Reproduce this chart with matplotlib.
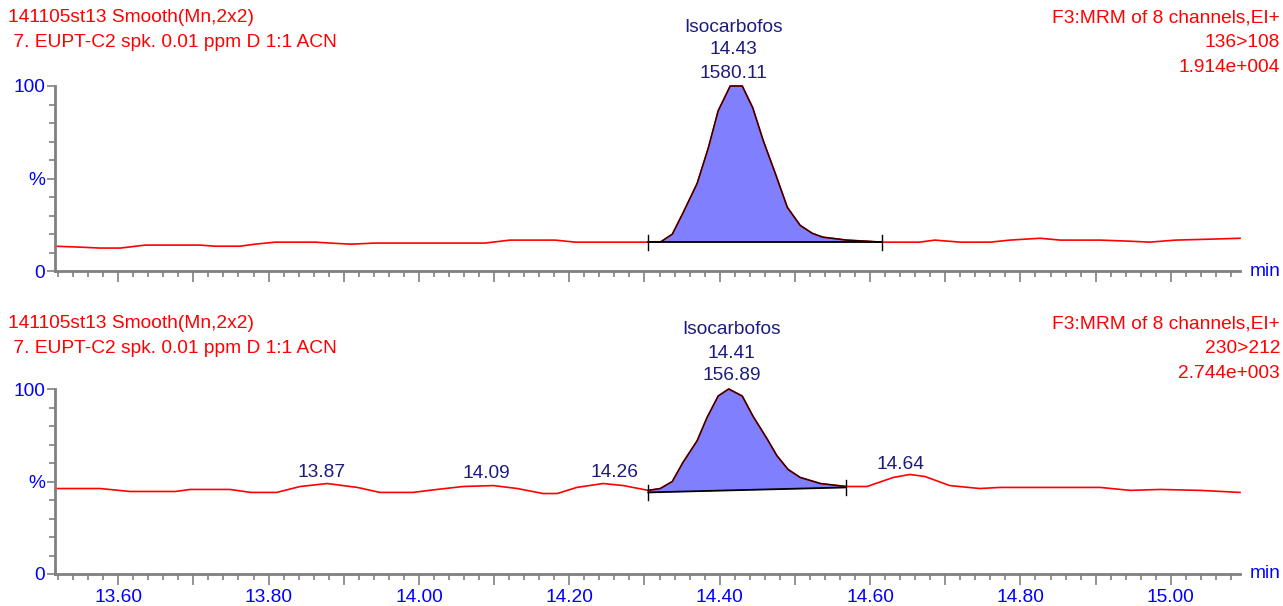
import numpy as np
import matplotlib.pyplot as plt
from matplotlib.ticker import MultipleLocator, FixedLocator, FuncFormatter

plt.rcParams['font.family'] = ['Liberation Sans', 'DejaVu Sans']

# channel 136>108 (time in min, intensity in %)
t_top = [13.516, 13.549, 13.576, 13.603, 13.636, 13.709, 13.729, 13.762, 13.782, 13.809,
         13.862, 13.882, 13.909, 13.942, 14.088, 14.121, 14.181, 14.208, 14.305, 14.321,
         14.337, 14.351, 14.370, 14.385, 14.398, 14.414, 14.430, 14.444, 14.458, 14.474,
         14.490, 14.507, 14.523, 14.537, 14.569, 14.596, 14.616, 14.666, 14.686, 14.720,
         14.760, 14.786, 14.826, 14.853, 14.906, 14.946, 14.972, 15.006, 15.052, 15.092]
i_top = [13.4, 12.9, 12.4, 12.4, 14.0, 14.0, 13.4, 13.4, 14.5, 15.6,
         15.6, 15.1, 14.5, 15.1, 15.1, 16.7, 16.7, 15.6, 15.6, 15.6,
         19.9, 31.2, 47.3, 66.7, 86.6, 100.0, 100.0, 88.2, 70.4, 52.7,
         34.4, 24.7, 20.4, 18.3, 16.7, 16.1, 15.6, 15.6, 16.7, 15.6,
         15.6, 16.7, 17.7, 16.7, 16.7, 16.1, 15.6, 16.7, 17.2, 17.7]

# channel 230>212
t_bot = [13.516, 13.576, 13.616, 13.676, 13.696, 13.749, 13.776, 13.811, 13.842, 13.878,
         13.918, 13.948, 13.992, 14.024, 14.059, 14.099, 14.131, 14.165, 14.184, 14.210,
         14.245, 14.272, 14.305, 14.321, 14.337, 14.351, 14.370, 14.383, 14.398, 14.412,
         14.430, 14.444, 14.463, 14.476, 14.491, 14.507, 14.534, 14.568, 14.596, 14.631,
         14.653, 14.673, 14.706, 14.746, 14.773, 14.906, 14.946, 14.986, 15.039, 15.092]
i_bot = [46.2, 46.2, 44.6, 44.6, 45.7, 45.7, 44.1, 44.1, 47.3, 48.9,
         46.8, 44.1, 44.1, 45.7, 47.3, 47.8, 46.2, 43.5, 43.5, 46.8,
         48.9, 47.8, 45.2, 46.2, 50.0, 60.2, 72.0, 84.4, 96.2, 100.0,
         96.2, 85.5, 73.1, 64.0, 56.5, 52.2, 48.9, 47.3, 47.3, 52.2,
         53.8, 52.7, 47.8, 46.2, 46.8, 46.8, 45.2, 45.7, 45.2, 44.1]

# integration start/end (min, %)
top_int = [(14.305, 15.6), (14.616, 15.6)]
bot_int = [(14.305, 44.1), (14.568, 46.8)]

top_head = ["141105st13 Smooth(Mn,2x2)", " 7. EUPT-C2 spk. 0.01 ppm D 1:1 ACN"]
top_right = ["F3:MRM of 8 channels,EI+", "136>108", "1.914e+004"]
bot_right = ["F3:MRM of 8 channels,EI+", "230>212", "2.744e+003"]
top_peak = ("Isocarbofos", "14.43", "1580.11")
bot_peak = ("Isocarbofos", "14.41", "156.89")
bot_minor = [(13.87, "13.87"), (14.09, "14.09"), (14.26, "14.26"), (14.64, "14.64")]

W, H = 1283, 606
RED = '#ff0000'
NAVY = '#1c1c80'
BLUE = '#0000ff'
GRAY = '#808080'
FILL = '#8080ff'
FS = 13.8

fig = plt.figure(figsize=(W / 100, H / 100), dpi=100)


def px(x, y):
    return x / W, 1 - y / H


def panel(y0, y100, t, inten, integ, peak, show_xlabels):
    ax = fig.add_axes([55 / W, 1 - y0 / H, 1185 / W, (y0 - y100) / H])
    ax.set_xlim(13.516, 15.092)
    ax.set_ylim(0, 100)
    for s in ['top', 'right']:
        ax.spines[s].set_visible(False)
    for s in ['left', 'bottom']:
        ax.spines[s].set_color(GRAY)
        ax.spines[s].set_linewidth(2)
    ax.spines['left'].set_bounds(0, 100)

    t = np.array(t)
    inten = np.array(inten)
    ax.plot(t, inten, color=RED, lw=1.2, clip_on=False)

    (ta, ya), (tb, yb) = integ
    m = (t >= ta) & (t <= tb)
    base = np.interp(t[m], [ta, tb], [ya, yb])
    ax.fill_between(t[m], base, inten[m], color=FILL, lw=0)
    ax.plot(t[m], inten[m], color='#200000', lw=1.0, clip_on=False)
    ax.plot([ta, tb], [ya, yb], color='black', lw=1.3)
    for tt, yy in integ:
        ax.plot([tt, tt], [yy - 4, yy + 4], color='black', lw=1)

    # peak annotation
    xk = t[m][np.argmax(inten[m])]
    for txt, off in zip(peak, [59, 36, 13]):
        ax.annotate(txt, xy=(xk + 0.004, 100), xytext=(0, off), textcoords='offset pixels',
                    ha='center', va='center', color=NAVY, fontsize=FS, annotation_clip=False)

    ax.yaxis.set_major_locator(FixedLocator([0, 50, 100]))
    ax.yaxis.set_minor_locator(MultipleLocator(10))
    ax.yaxis.set_major_formatter(FuncFormatter(lambda v, p: {0: '0', 50: '%', 100: '100'}.get(int(v), '')))
    ax.tick_params(axis='y', which='major', length=6, width=1.2, color=GRAY, labelcolor=BLUE,
                   labelsize=FS, pad=1)
    ax.tick_params(axis='y', which='minor', length=4, width=1.2, color=GRAY)

    ax.xaxis.set_major_locator(MultipleLocator(0.1))
    ax.xaxis.set_minor_locator(MultipleLocator(0.02))
    if show_xlabels:
        ax.xaxis.set_major_formatter(FuncFormatter(
            lambda v, p: f"{v:.2f}" if abs(round(v / 0.2) * 0.2 - v) < 1e-6 else ''))
    else:
        ax.xaxis.set_major_formatter(FuncFormatter(lambda v, p: ''))
    ax.tick_params(axis='x', which='major', length=8, width=1.2, color=GRAY, labelcolor=BLUE,
                   labelsize=FS, pad=3)
    ax.tick_params(axis='x', which='minor', length=4, width=1.2, color=GRAY)

    ax.text(1.008, 0, 'min', transform=ax.transAxes, ha='left', va='center',
            color=BLUE, fontsize=FS)

    return ax


ax1 = panel(271, 86, t_top, i_top, top_int, top_peak, False)
ax2 = panel(574, 389, t_bot, i_bot, bot_int, bot_peak, True)

for tt, lab in bot_minor:
    yy = np.interp(tt, t_bot, i_bot)
    ax2.annotate(lab, xy=(tt, yy), xytext=(0, 12), textcoords='offset pixels',
                 ha='center', va='center', color=NAVY, fontsize=FS)

for y0, right in [(0, top_right), (306, bot_right)]:
    for j, line in enumerate(top_head):
        fig.text(*px(8, y0 + 18 + 24.5 * j), line, ha='left', va='center', color=RED, fontsize=FS)
    for j, line in enumerate(right):
        fig.text(*px(1280, y0 + 18 + 24.5 * j), line, ha='right', va='center', color=RED, fontsize=FS)

fig.savefig('out.png', dpi=100)
